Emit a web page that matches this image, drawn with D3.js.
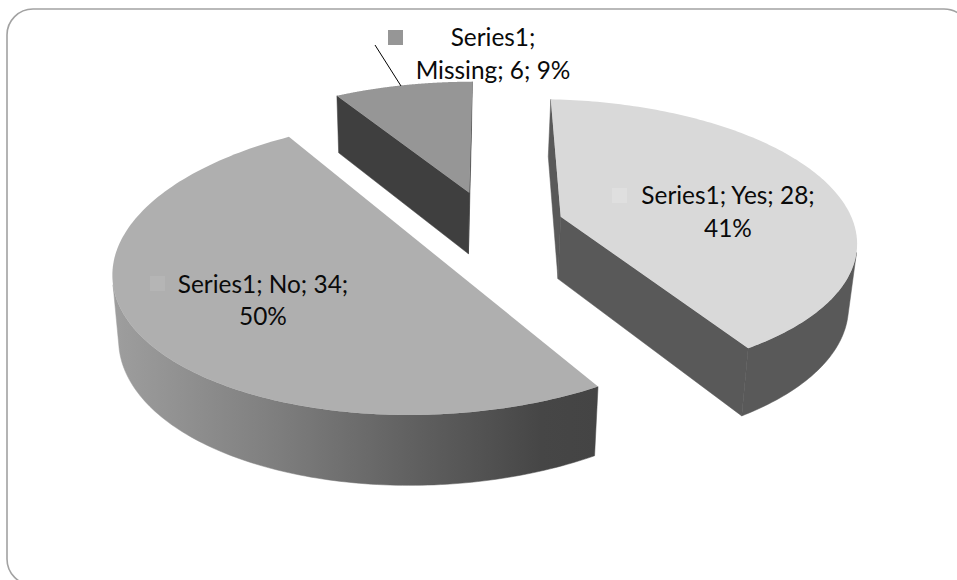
<!DOCTYPE html>
<html><head><meta charset="utf-8"><style>html,body{margin:0;padding:0;background:#fff;overflow:hidden}svg{display:block}</style></head>
<body><svg id="c" width="957" height="580"></svg>
<script src="https://cdn.jsdelivr.net/npm/d3@7"></script>
<script>
const seriesName = "Series1";
const categories = ["Yes", "No", "Missing"];
const values = [28, 34, 6];
const lineBreaks = [3, 3, 1];

const topColors = ["#d9d9d9", "#afafaf", "#969696"];
const keyColors = ["#dfdfdf", "#b5b5b5", "#969696"];
const wallColors = ["#595959", "url(#noWall)", "#3f3f3f"];

// Perspective geometry of each exploded slice: apex, ellipse centre, ellipse
// semi-axis vectors and the range of ellipse phases its rim covers (degrees).
const sliceFrames = [
  {apex:[560.7,216.7], centre:[549.4,238.6], up:[3.0,-139.2], right:[307.7,6.6], phase:[-0.3,139.2]},
  {apex:[444,262],     centre:[428.1,266.2], up:[-5.3,-148.3], right:[315.7,-11.4], phase:[148.4,334.8]},
  {apex:[469.3,192.7], centre:[472.3,221.7], up:[0,-140], right:[310,0], phase:[334.1,360]}
];
const labelFrames = [
  {x:728, y:204, key:[612,188]},
  {x:263, y:292.7, key:[150,276]},
  {x:493, y:46, key:[388,30]}
];
const depth = p => [425 + (p[0]-425)*0.98, 1.042*p[1] + 53];

const svg = d3.select("#c");
const defs = svg.append("defs");
const grad = defs.append("linearGradient").attr("id","noWall").attr("gradientUnits","userSpaceOnUse")
  .attr("x1",113).attr("x2",600).attr("y1",0).attr("y2",0);
[[0,"#9e9e9e"],[0.316,"#808080"],[0.59,"#636363"],[0.88,"#464646"],[1,"#444444"]]
  .forEach(s => grad.append("stop").attr("offset",s[0]).attr("stop-color",s[1]));

svg.append("rect").attr("x",7).attr("y",9).attr("width",963).attr("height",576).attr("rx",26)
  .attr("fill","#fff").attr("stroke","#a2a2a2").attr("stroke-width",1.6);

const arcs = d3.pie().sort(null).value(d=>d)(values);
const line = d3.line();
const total = d3.sum(values);

const outlines = arcs.map((a,i) => {
  const f = sliceFrames[i];
  const phase = d3.scaleLinear().domain([a.startAngle,a.endAngle]).range(f.phase.map(d=>d*Math.PI/180));
  return d3.range(0,161).map(k => {
    const t = phase(a.startAngle + (a.endAngle-a.startAngle)*k/160);
    return [f.centre[0]+f.up[0]*Math.cos(t)+f.right[0]*Math.sin(t),
            f.centre[1]+f.up[1]*Math.cos(t)+f.right[1]*Math.sin(t)];
  });
});

// true when the wall below the clockwise edge a -> b faces the viewer
const faces = (p, a, b) => {
  const d = depth(p);
  return (d[0]-p[0])*(b[1]-a[1]) - (d[1]-p[1])*(b[0]-a[0]) > 0;
};

const g = svg.append("g");
outlines.forEach((rim,i) => {
  const f = sliceFrames[i];
  const first = rim[0], last = rim[rim.length-1];
  const wall = d => g.append("path").attr("fill",wallColors[i])
    .attr("stroke",wallColors[i]).attr("stroke-width",0.5).attr("d",line(d)+"Z");
  // straight radial faces
  if (faces(f.apex, f.apex, first)) wall([f.apex,first,depth(first),depth(f.apex)]);
  if (faces(f.apex, last, f.apex)) wall([f.apex,last,depth(last),depth(f.apex)]);
  // curved outer face
  const front = rim.filter((p,k) => faces(p, rim[Math.max(k-1,0)], rim[Math.min(k+1,rim.length-1)]));
  if (front.length > 1) wall([...front, ...front.slice().reverse().map(depth)]);
});
outlines.forEach((rim,i) => g.append("path").attr("fill",topColors[i])
  .attr("d",line([sliceFrames[i].apex, ...rim])+"Z"));

svg.append("line").attr("x1",375).attr("y1",45).attr("x2",401).attr("y2",86)
  .attr("stroke","#000").attr("stroke-width",1);

arcs.forEach((a,i) => {
  const tokens = [seriesName+";", categories[i]+";", values[i]+";", Math.round(values[i]/total*100)+"%"];
  const lines = [tokens.slice(0,lineBreaks[i]).join(" "), tokens.slice(lineBreaks[i]).join(" ")];
  const lf = labelFrames[i];
  svg.append("rect").attr("x",lf.key[0]).attr("y",lf.key[1]).attr("width",15).attr("height",15).attr("fill",keyColors[i]);
  lines.forEach((t,j) => svg.append("text").attr("x",lf.x).attr("y",lf.y+j*32.5).attr("text-anchor","middle")
    .attr("font-family","Lato, sans-serif").attr("font-size",24.4).attr("fill","#0a0a0a").text(t));
});
</script></body></html>
